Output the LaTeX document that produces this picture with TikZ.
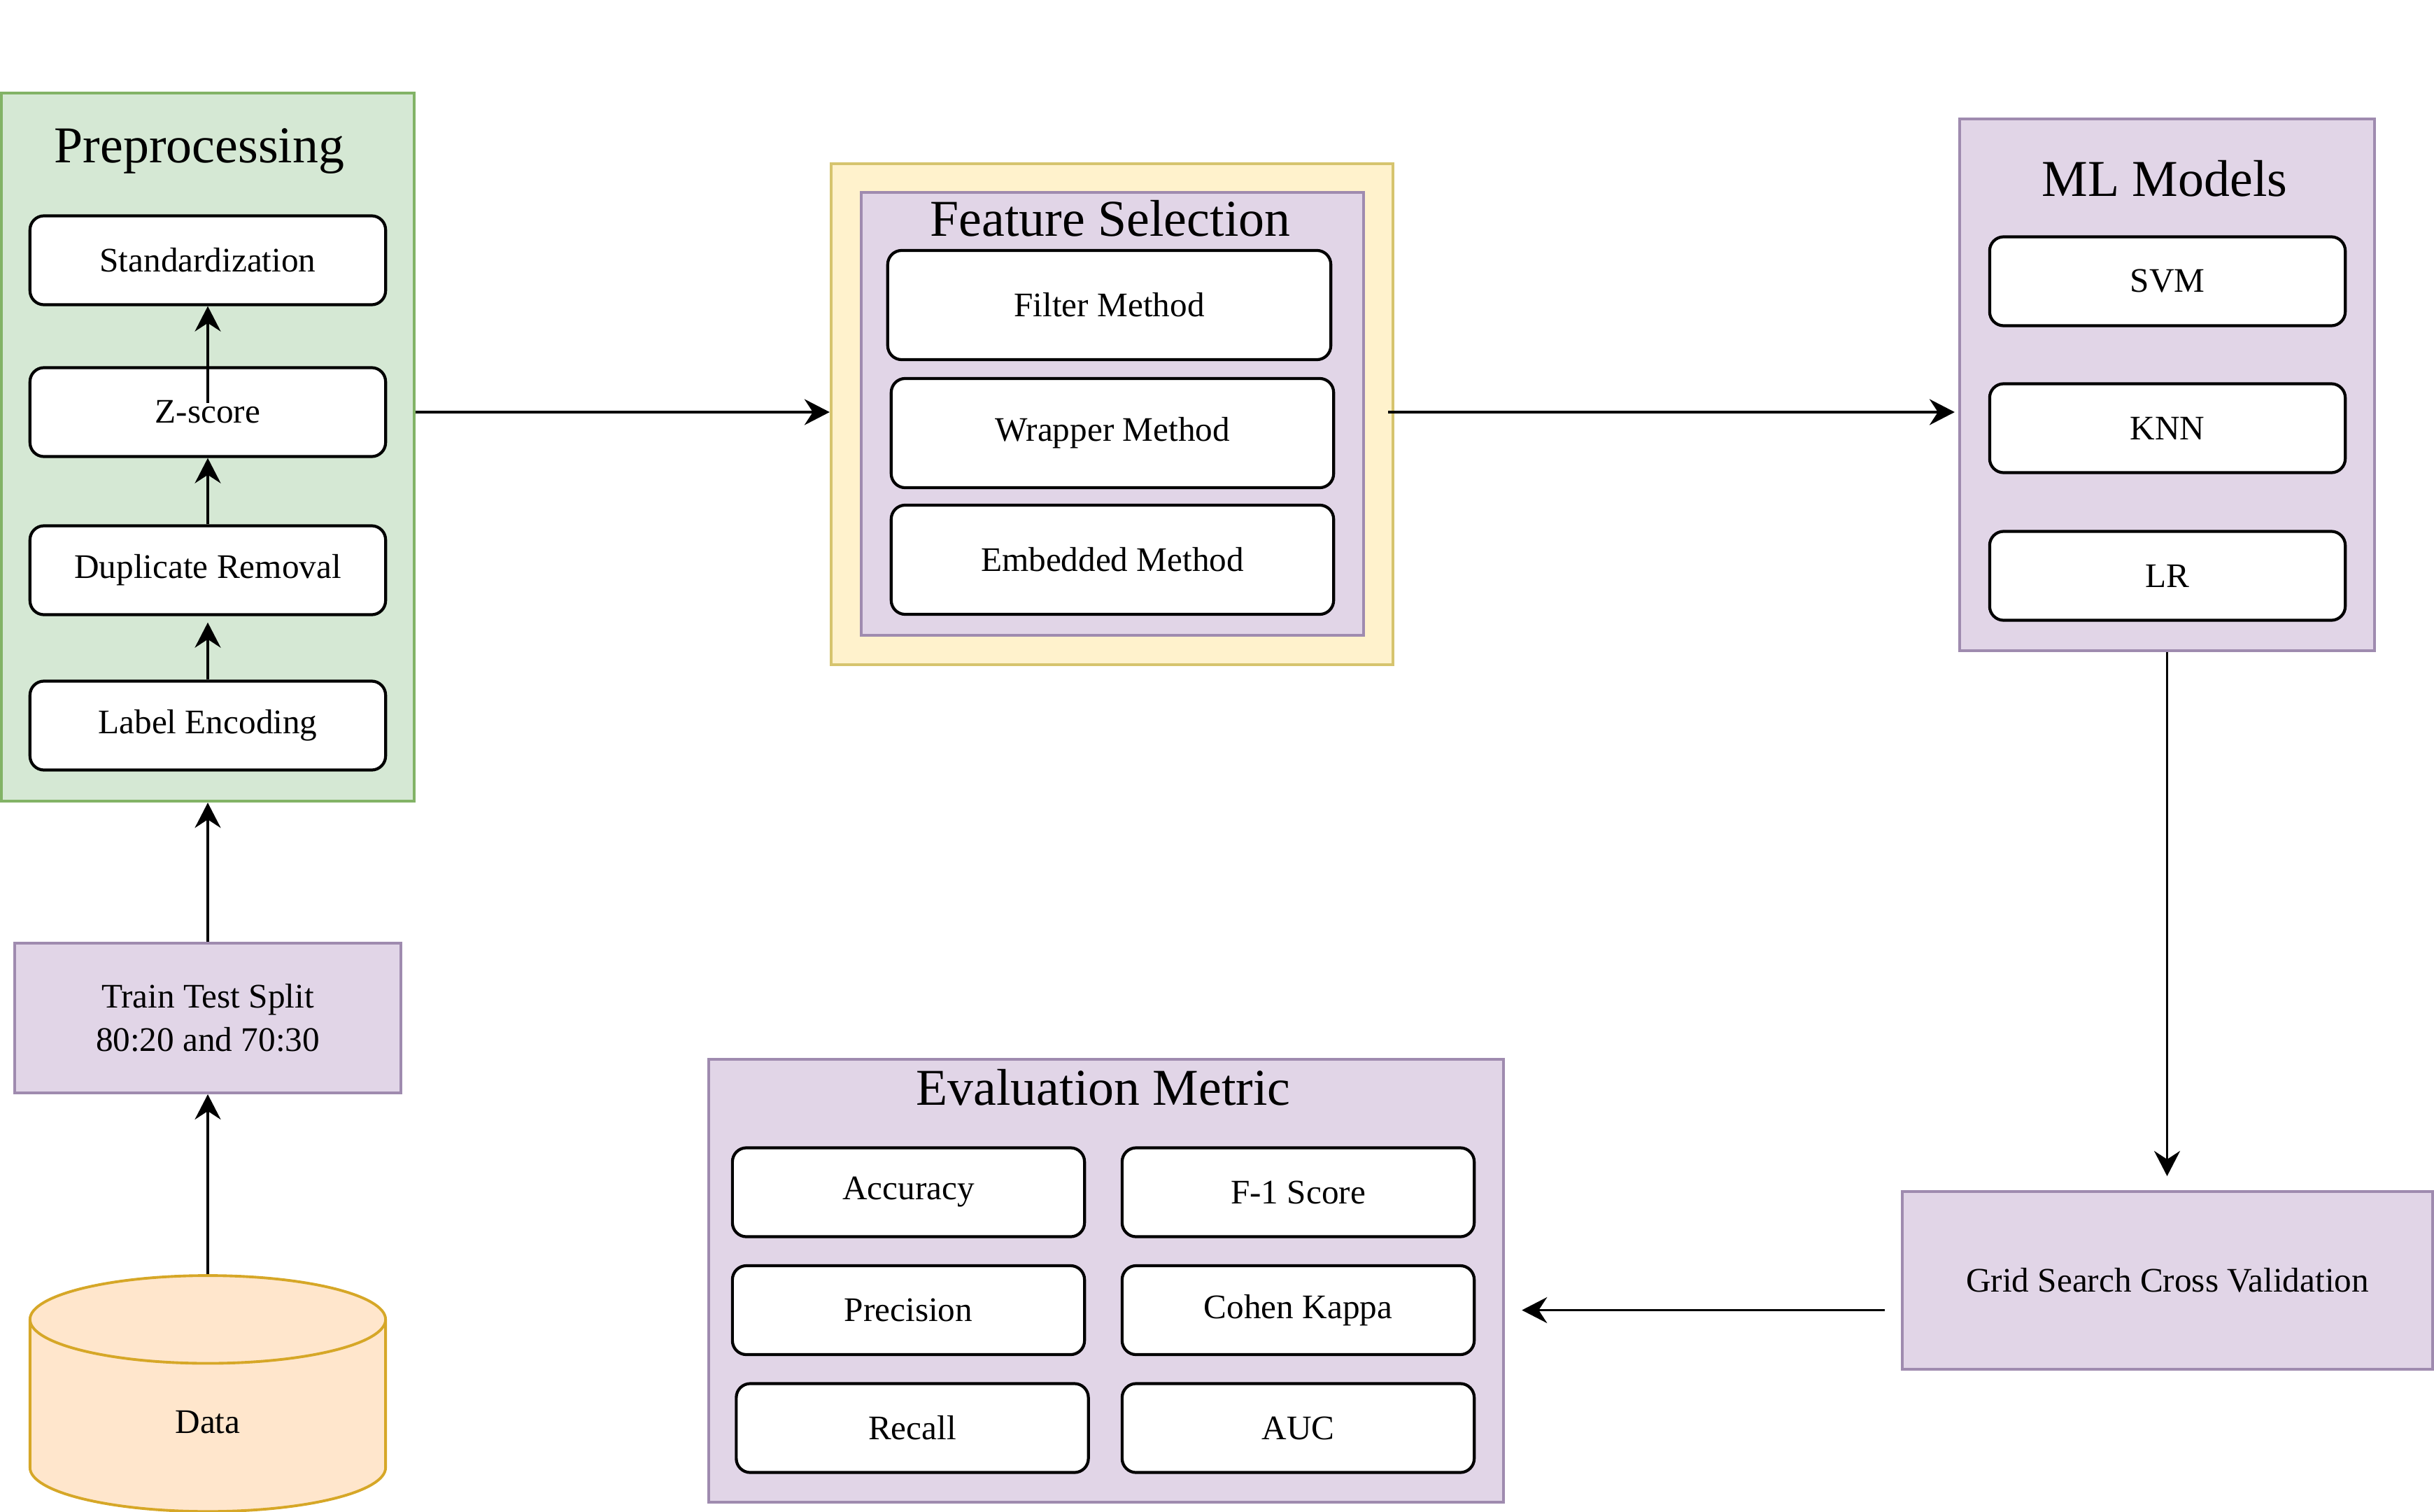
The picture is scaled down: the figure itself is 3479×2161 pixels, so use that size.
\documentclass[tikz,border=0pt]{standalone}
\usepackage{fontspec}
\setmainfont{Liberation Serif}
\usetikzlibrary{arrows.meta,shapes.geometric}
\definecolor{prepfill}{HTML}{D5E8D4}
\definecolor{prepdraw}{HTML}{82B366}
\definecolor{purfill}{HTML}{E1D5E7}
\definecolor{purdraw}{HTML}{9F8BAF}
\definecolor{yelfill}{HTML}{FFF2CC}
\definecolor{yeldraw}{HTML}{D6C46E}
\definecolor{datfill}{HTML}{FFE6CC}
\definecolor{datdraw}{HTML}{D6A727}
\tikzset{
  group/.style={rectangle, draw, line width=1.1pt, inner sep=0pt},
  method/.style={rectangle, draw, fill=white, rounded corners=0.2cm, line width=1.2pt,
    inner sep=0pt, minimum width=5.08cm, minimum height=1.27cm,
    font=\fontsize{14}{17}\selectfont},
  heading/.style={font=\fontsize{21}{25}\selectfont},
  arr/.style={-{Stealth[length=0.36cm,width=0.37cm,inset=0.12cm]}, line width=1pt}
}
\begin{document}
\begin{tikzpicture}[x=0.01cm, y=-0.01cm]
  \useasboundingbox (0,0) rectangle (3479,2161);
  \node[group, fill=prepfill, draw=prepdraw, minimum width=5.9cm, minimum height=10.12cm] (prep) at (297,639) {};
  \node[heading] (preptitle) at (285,216) {Preprocessing};
  \node[method] (std) at (297,372) {Standardization};
  \node[method] (zscore) at (297,589) {Z-score};
  \node[method] (dup) at (297,815) {Duplicate Removal};
  \node[method] (lab) at (297,1037) {Label Encoding};
  \node[group, fill=purfill, draw=purdraw, minimum width=5.52cm, minimum height=2.14cm, align=center,
    font=\fontsize{14}{17.6}\selectfont] (train) at (297,1455) {Train Test Split\\80:20 and 70:30};
  \node[cylinder, shape border rotate=90, aspect=1.35, draw=datdraw, fill=datfill, line width=1.1pt,
    minimum width=5.08cm, minimum height=3.37cm, inner sep=0pt,
    font=\fontsize{14}{17}\selectfont] (data) at (297,2024) {\raisebox{-0.5cm}{Data}};
  \node[group, fill=yelfill, draw=yeldraw, minimum width=8.03cm, minimum height=7.16cm] (fsouter) at (1589.5,592) {};
  \node[group, fill=purfill, draw=purdraw, minimum width=7.18cm, minimum height=6.33cm] (fsinner) at (1590,591.5) {};
  \node[heading] (fstitle) at (1587,312) {Feature Selection};
  \node[method, minimum width=6.33cm, minimum height=1.56cm] (filter) at (1585.5,436) {Filter Method};
  \node[method, minimum width=6.32cm, minimum height=1.56cm] (wrapper) at (1590,619) {Wrapper Method};
  \node[method, minimum width=6.32cm, minimum height=1.56cm] (embed) at (1590,800) {Embedded Method};
  \node[group, fill=purfill, draw=purdraw, minimum width=5.93cm, minimum height=7.6cm] (ml) at (3097.5,550) {};
  \node[heading] (mltitle) at (3094,255) {ML Models};
  \node[method] (svm) at (3098,402) {SVM};
  \node[method] (knn) at (3098,612) {KNN};
  \node[method] (lr) at (3098,823) {LR};
  \node[group, fill=purfill, draw=purdraw, minimum width=7.58cm, minimum height=2.54cm,
    font=\fontsize{14}{17}\selectfont] (grid) at (3098,1830) {Grid Search Cross Validation};
  \node[group, fill=purfill, draw=purdraw, minimum width=11.36cm, minimum height=6.33cm] (eval) at (1581,1830.5) {};
  \node[heading] (evaltitle) at (1577,1554) {Evaluation Metric};
  \node[method, minimum width=5.03cm] (acc) at (1298.5,1704) {Accuracy};
  \node[method, minimum width=5.03cm] (fone) at (1855.5,1704) {F-1 Score};
  \node[method, minimum width=5.03cm] (prec) at (1298.5,1872.5) {Precision};
  \node[method, minimum width=5.03cm] (cohen) at (1855.5,1872.5) {Cohen Kappa};
  \node[method, minimum width=5.03cm] (recall) at (1304,2041) {Recall};
  \node[method, minimum width=5.03cm] (auc) at (1855.5,2041) {AUC};
  \draw[arr] (data) -- (train);
  \draw[arr] (train) -- (prep);
  \draw[arr, shorten >=0.09cm] (lab) -- (dup);
  \draw[arr] (dup) -- (zscore);
  \draw[arr] ([yshift=0.13cm]zscore.center) -- (std.south);
  \draw[arr] (zscore -| prep.east) -- (zscore -| fsouter.west);
  \draw[arr, shorten <=-0.09cm, shorten >=0.05cm] (zscore -| fsouter.east) -- (zscore -| ml.west);
  \draw[arr, shorten >=0.2cm] (ml.south) -- (ml.south |- grid.north);
  \draw[arr, shorten <=0.23cm, shorten >=0.24cm] (cohen -| grid.west) -- (cohen -| eval.east);
\end{tikzpicture}
\end{document}
